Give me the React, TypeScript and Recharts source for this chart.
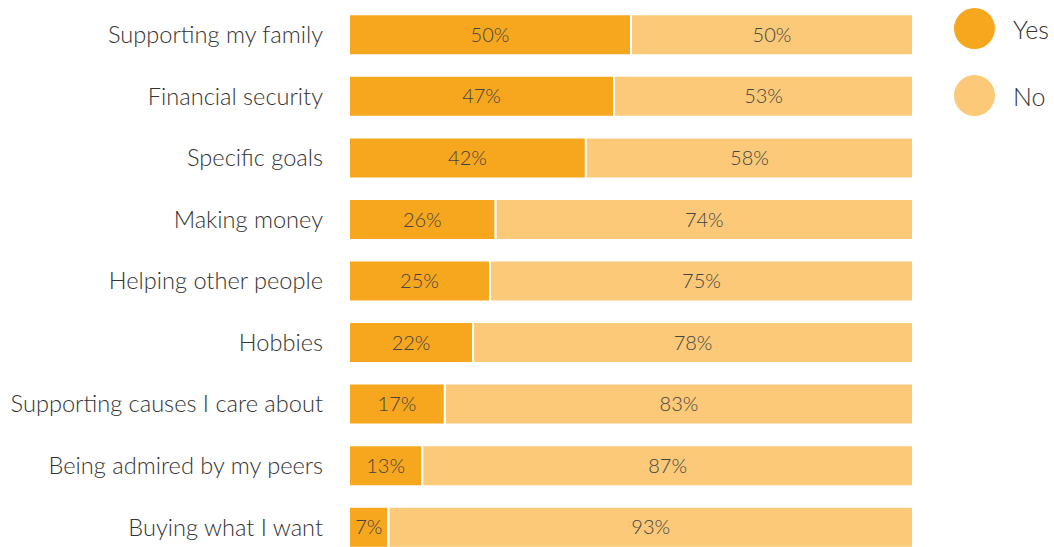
import React from 'react';
import { BarChart, Bar, XAxis, YAxis, LabelList } from 'recharts';

const categories = [
  'Supporting my family',
  'Financial security',
  'Specific goals',
  'Making money',
  'Helping other people',
  'Hobbies',
  'Supporting causes I care about',
  'Being admired by my peers',
  'Buying what I want',
];
const yesValues = [50, 47, 42, 26, 25, 22, 17, 13, 7];
const noValues = [50, 53, 58, 74, 75, 78, 83, 87, 93];

const YES_COLOR = '#F7A71E';
const NO_COLOR = '#FBC978';
const FONT = 'Lato, "Liberation Sans", sans-serif';

const data = categories.map((name, i) => ({ name, yes: yesValues[i], no: noValues[i] }));

const legendItems = [
  { label: 'Yes', color: YES_COLOR },
  { label: 'No', color: NO_COLOR },
];

// legend drawn next to the chart, circles + label
const CircleLegend = () => (
  <div style={{ position: 'absolute', left: 954, top: -5, fontFamily: FONT, fontWeight: 300 }}>
    {legendItems.map(item => (
      <div key={item.label} style={{ display: 'flex', alignItems: 'center', height: 67 }}>
        <div style={{ width: 41, height: 41, borderRadius: '50%', background: item.color }} />
        <span style={{ marginLeft: 18, fontSize: 25, color: '#333' }}>{item.label}</span>
      </div>
    ))}
  </div>
);

export default function App() {
  return (
    <div style={{ position: 'absolute', left: 0, top: 0, width: 1054, height: 547, overflow: 'hidden', background: '#fff' }}>
      <BarChart
        width={1054}
        height={560}
        data={data}
        layout="vertical"
        margin={{ top: 4, right: 141, bottom: 2, left: 0 }}
        barCategoryGap="16.7%"
      >
        <XAxis type="number" domain={[0, 100]} hide />
        <YAxis
          type="category"
          dataKey="name"
          width={349}
          axisLine={false}
          tickLine={false}
          tickMargin={20}
          tick={{ fill: '#333', fontSize: 23.6, fontFamily: FONT, fontWeight: 300 }}
        />
        <Bar dataKey="yes" stackId="a" fill={YES_COLOR} stroke="#fff" strokeWidth={2} isAnimationActive={false}>
          <LabelList
            dataKey="yes"
            position="center"
            formatter={(v: number) => `${v}%`}
            style={{ fill: '#444', fontSize: 20, fontFamily: FONT, fontWeight: 300 }}
          />
        </Bar>
        <Bar dataKey="no" stackId="a" fill={NO_COLOR} stroke="#fff" strokeWidth={2} isAnimationActive={false}>
          <LabelList
            dataKey="no"
            position="center"
            formatter={(v: number) => `${v}%`}
            style={{ fill: '#444', fontSize: 20, fontFamily: FONT, fontWeight: 300 }}
          />
        </Bar>
      </BarChart>
      <CircleLegend />
    </div>
  );
}
